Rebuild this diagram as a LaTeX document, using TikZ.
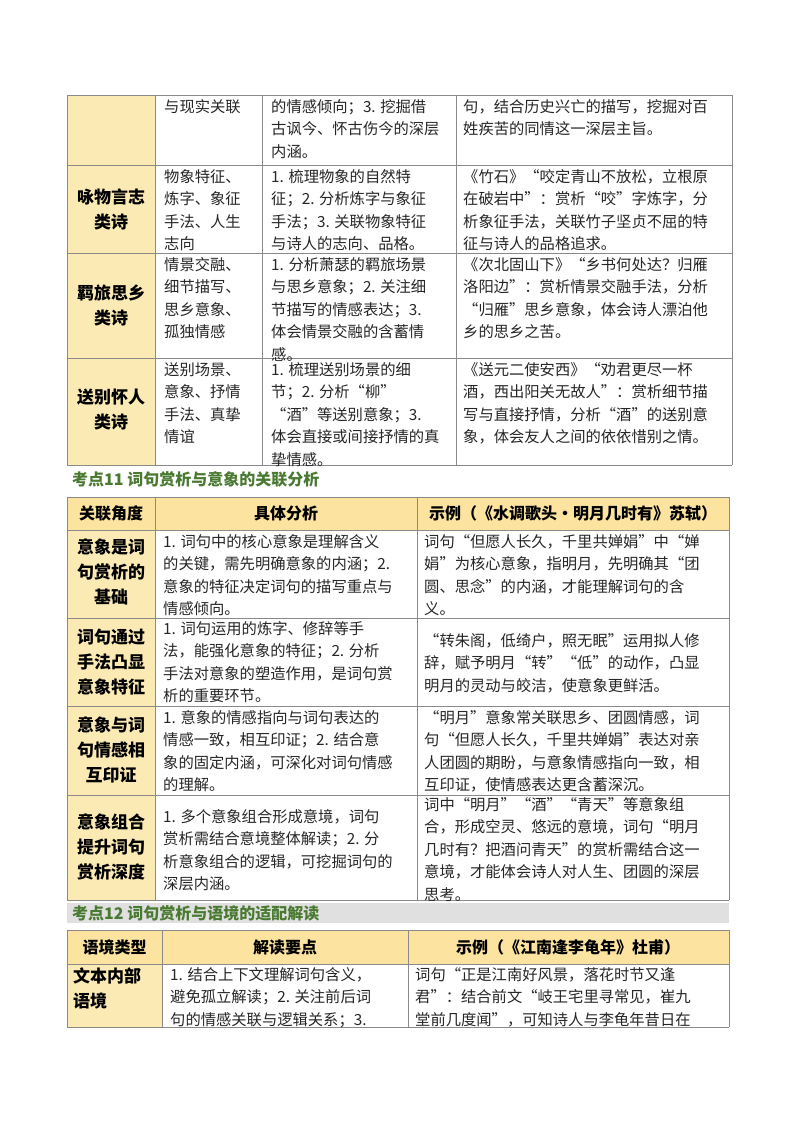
\documentclass[tikz,border=0pt]{standalone}
\usepackage{fontspec}
\setmainfont{Noto Sans CJK SC}
\definecolor{hdr}{HTML}{FCE3A0}
\definecolor{fcol}{HTML}{FCEAB5}
\definecolor{grid}{HTML}{8A8A8A}
\definecolor{ttl}{HTML}{4A7A32}
\begin{document}
\begin{tikzpicture}[x=1pt,y=-1pt,
  cell/.style={anchor=north west,inner sep=0pt,align=left,font=\fontsize{15.3}{22.5}\selectfont,text=black!85},
  hcell/.style={anchor=center,inner sep=0pt,align=center,font=\fontsize{16}{21}\selectfont\bfseries},
  kcell/.style={anchor=center,inner sep=0pt,align=center,font=\fontsize{17}{25}\selectfont\bfseries},
  gl/.style={draw=grid,line width=0.8pt},
  title/.style={anchor=west,inner sep=0pt,font=\fontsize{16}{18}\selectfont\bfseries,text=ttl}]
\useasboundingbox (0,0) rectangle (800,1132);
\fill[white] (0,0) rectangle (800,1132);
% ===== Table 1 =====
\fill[fcol] (67,95) rectangle (155,465);
\foreach \y in {95,165,253,358,465} \draw[gl] (67,\y) -- (732,\y);
\foreach \x in {67,155,262,456,732} \draw[gl] (\x,95) -- (\x,465);
\node[cell] (a12) at (164,99) {与现实关联};
\node[cell] (a13) at (271,99) {的情感倾向；3. 挖掘借\\古讽今、怀古伤今的深层\\内涵。};
\node[cell] (a14) at (463,99) {句，结合历史兴亡的描写，挖掘对百\\姓疾苦的同情这一深层主旨。};
\node[kcell] (a21) at (111,209) {咏物言志\\类诗};
\node[cell] (a22) at (164,169) {物象特征、\\炼字、象征\\手法、人生\\志向};
\node[cell] (a23) at (271,169) {1. 梳理物象的自然特\\征；2. 分析炼字与象征\\手法；3. 关联物象特征\\与诗人的志向、品格。};
\node[cell] (a24) at (463,169) {《竹石》“咬定青山不放松，立根原\\在破岩中”：赏析“咬”字炼字，分\\析象征手法，关联竹子坚贞不屈的特\\征与诗人的品格追求。};
\node[kcell] (a31) at (111,305) {羁旅思乡\\类诗};
\node[cell] (a32) at (164,257) {情景交融、\\细节描写、\\思乡意象、\\孤独情感};
\node[cell] (a33) at (271,257) {1. 分析萧瑟的羁旅场景\\与思乡意象；2. 关注细\\节描写的情感表达；3.\\体会情景交融的含蓄情\\感。};
\node[cell] (a34) at (463,257) {《次北固山下》“乡书何处达？归雁\\洛阳边”：赏析情景交融手法，分析\\“归雁”思乡意象，体会诗人漂泊他\\乡的思乡之苦。};
\node[kcell] (a41) at (111,410) {送别怀人\\类诗};
\node[cell] (a42) at (164,362) {送别场景、\\意象、抒情\\手法、真挚\\情谊};
\node[cell] (a43) at (271,362) {1. 梳理送别场景的细\\节；2. 分析“柳”\\“酒”等送别意象；3.\\体会直接或间接抒情的真\\挚情感。};
\node[cell] (a44) at (463,362) {《送元二使安西》“劝君更尽一杯\\酒，西出阳关无故人”：赏析细节描\\写与直接抒情，分析“酒”的送别意\\象，体会友人之间的依依惜别之情。};
% ===== Title 11 =====
\node[title] (t11) at (72,479) {考点11\ 词句赏析与意象的关联分析};
% ===== Table 2 =====
\fill[hdr] (67,497) rectangle (729,530);
\fill[fcol] (67,530) rectangle (155,900);
\foreach \y in {497,530,618,706,795,900} \draw[gl] (67,\y) -- (729,\y);
\foreach \x in {67,155,417,729} \draw[gl] (\x,497) -- (\x,900);
\node[hcell] (b01) at (111,513.5) {关联角度};
\node[hcell] (b02) at (286,513.5) {具体分析};
\node[hcell] (b03) at (573,513.5) {示例（《水调歌头·明月几时有》苏轼）};
\node[kcell] (b11) at (111,572) {意象是词\\句赏析的\\基础};
\node[cell] (b12) at (163,534) {1. 词句中的核心意象是理解含义\\的关键，需先明确意象的内涵；2.\\意象的特征决定词句的描写重点与\\情感倾向。};
\node[cell] (b13) at (424,534) {词句“但愿人长久，千里共婵娟”中“婵\\娟”为核心意象，指明月，先明确其“团\\圆、思念”的内涵，才能理解词句的含\\义。};
\node[kcell] (b21) at (111,662) {词句通过\\手法凸显\\意象特征};
\node[cell] (b22) at (163,621) {1. 词句运用的炼字、修辞等手\\法，能强化意象的特征；2. 分析\\手法对意象的塑造作用，是词句赏\\析的重要环节。};
\node[cell] (b23) at (424,633) {“转朱阁，低绮户，照无眠”运用拟人修\\辞，赋予明月“转”“低”的动作，凸显\\明月的灵动与皎洁，使意象更鲜活。};
\node[kcell] (b31) at (111,750) {意象与词\\句情感相\\互印证};
\node[cell] (b32) at (163,710) {1. 意象的情感指向与词句表达的\\情感一致，相互印证；2. 结合意\\象的固定内涵，可深化对词句情感\\的理解。};
\node[cell] (b33) at (424,710) {“明月”意象常关联思乡、团圆情感，词\\句“但愿人长久，千里共婵娟”表达对亲\\人团圆的期盼，与意象情感指向一致，相\\互印证，使情感表达更含蓄深沉。};
\node[kcell] (b41) at (111,847) {意象组合\\提升词句\\赏析深度};
\node[cell] (b42) at (163,809) {1. 多个意象组合形成意境，词句\\赏析需结合意境整体解读；2. 分\\析意象组合的逻辑，可挖掘词句的\\深层内涵。};
\node[cell] (b43) at (424,797) {词中“明月”“酒”“青天”等意象组\\合，形成空灵、悠远的意境，词句“明月\\几时有？把酒问青天”的赏析需结合这一\\意境，才能体会诗人对人生、团圆的深层\\思考。};
% ===== Title 12 =====
\fill[black!12] (67,903) rectangle (729,923);
\node[title] (t12) at (72,913) {考点12\ 词句赏析与语境的适配解读};
% ===== Table 3 =====
\fill[hdr] (67,930) rectangle (729,964);
\fill[fcol] (67,964) rectangle (162,1027);
\foreach \y in {930,964,1027} \draw[gl] (67,\y) -- (729,\y);
\foreach \x in {67,162,408,729} \draw[gl] (\x,930) -- (\x,1027);
\node[hcell] (c01) at (114.5,947) {语境类型};
\node[hcell] (c02) at (285,947) {解读要点};
\node[hcell] (c03) at (568,947) {示例（《江南逢李龟年》杜甫）};
\node[kcell,align=left,anchor=north west] (c11) at (73,968) {文本内部\\语境};
\node[cell] (c12) at (170,967) {1. 结合上下文理解词句含义，\\避免孤立解读；2. 关注前后词\\句的情感关联与逻辑关系；3.};
\node[cell] (c13) at (415,967) {词句“正是江南好风景，落花时节又逢\\君”：结合前文“岐王宅里寻常见，崔九\\堂前几度闻”，可知诗人与李龟年昔日在};
\end{tikzpicture}
\end{document}
